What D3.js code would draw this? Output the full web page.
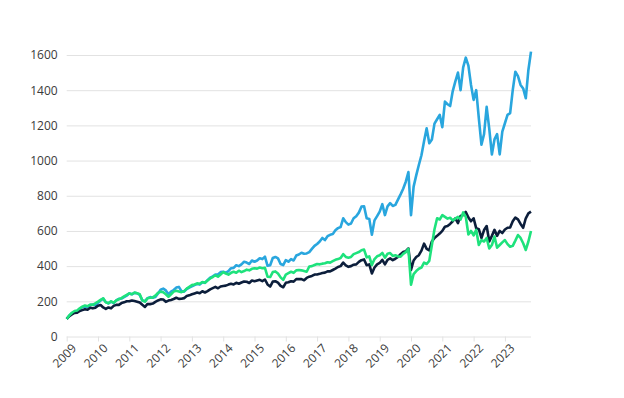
<!DOCTYPE html>
<html>
<head>
<meta charset="utf-8">
<script src="https://cdn.jsdelivr.net/npm/d3@7"></script>
<style>
  body { margin: 0; background: #fff; }
  text { font-family: "Open Sans", sans-serif; }
</style>
</head>
<body>
<script>
// Growth of 100, one value per month from March 2009
const years = d3.range(2009, 2024);
const yTicks = [0, 200, 400, 600, 800, 1000, 1200, 1400, 1600];

const blue = [
  100,118,132,138,142,155,168,170,168,178,
  182,178,192,205,215,195,188,198,190,205,214,216,
  224,232,245,240,248,246,236,205,200,218,224,220,
  225,245,266,272,262,240,255,264,278,282,258,255,
  270,278,285,292,298,295,308,305,320,335,342,352,
  352,366,368,362,372,388,390,405,400,410,425,420,
  412,432,425,432,445,440,454,402,405,446,452,444,
  412,406,434,425,440,432,460,466,476,470,472,480,
  498,515,526,540,560,548,570,578,582,604,616,622,
  672,650,636,642,672,684,704,738,740,672,668,578,
  660,684,710,752,690,740,758,742,748,778,808,840,
  880,935,690,852,916,975,1030,1110,1183,1098,1120,1210,
  1235,1260,1190,1335,1320,1310,1395,1450,1500,1400,1530,1585,
  1540,1430,1345,1400,1240,1090,1150,1305,1180,1035,1120,1150,
  1035,1165,1212,1260,1270,1400,1505,1480,1430,1410,1354,1515,1619
];

const navy = [
  100,116,126,134,135,145,150,155,152,163,
  160,164,175,179,165,157,165,160,174,180,180,190,
  194,200,200,205,202,198,193,180,168,185,184,187,
  197,205,211,210,197,204,208,213,220,214,215,218,
  230,234,240,245,250,246,257,250,258,268,275,282,
  274,284,287,289,295,300,296,305,300,307,313,311,
  304,318,314,318,322,315,324,296,284,312,314,306,
  288,280,305,308,314,312,326,327,326,320,333,340,
  344,352,352,356,361,363,370,370,378,386,395,400,
  420,404,396,400,408,410,424,434,438,405,410,358,
  392,410,418,436,410,436,444,434,442,452,468,480,
  485,500,378,432,452,462,488,528,498,490,540,560,
  572,585,600,624,628,640,655,672,645,685,690,708,
  676,655,672,615,610,560,605,628,540,572,606,572,
  600,588,608,618,620,655,676,666,640,618,672,700,710
];

const green = [
  100,120,135,145,148,160,170,176,172,182,
  180,189,198,208,217,194,189,200,192,205,212,218,
  228,236,245,240,250,246,240,205,198,217,220,222,
  232,248,255,252,240,226,240,255,260,256,252,258,
  272,282,292,296,302,300,310,305,318,330,338,348,
  340,352,366,358,352,362,368,362,374,366,372,380,
  376,385,388,386,392,388,390,340,338,366,370,358,
  336,322,352,360,368,362,376,378,376,372,368,398,
  400,406,412,410,414,416,422,420,428,436,440,446,
  468,452,448,452,468,474,480,490,494,450,455,406,
  440,456,462,475,448,470,474,458,462,455,454,470,
  480,498,295,355,372,385,392,420,412,430,520,610,
  672,665,690,680,670,675,660,670,680,665,705,680,
  580,600,575,606,520,548,540,560,500,520,568,505,
  520,535,548,525,510,515,545,577,560,530,492,540,600
];

const series = [
  {name: 'blue', values: blue, color: '#29a6de'},
  {name: 'navy', values: navy, color: '#0c1e3b'},
  {name: 'green', values: green, color: '#1ee27c'}
];

let width = 624,
  height = 398;

let margin = {top: 55, right: 93, bottom: 61.5, left: 66.7};

let svg = d3
  .select('body')
  .append('svg')
    .attr('width', width)
    .attr('height', height)
    .style('background', '#fff');

// Scales: x in years, one step per month
let xScale = d3.scaleLinear()
  .domain([2009, 2009 + (blue.length - 1) / 12])
  .range([margin.left, width - margin.right]);

let yScale = d3.scaleLinear()
  .domain([0, 1600])
  .range([height - margin.bottom, margin.top]);

// Gridlines + y labels
let yAxis = svg.append('g')
  .attr('transform', `translate(${margin.left},0)`)
  .call(d3.axisLeft(yScale)
    .tickValues(yTicks)
    .tickSize(-(width - margin.right - margin.left))
    .tickPadding(9)
    .tickFormat(d3.format('d')));

yAxis.select('.domain').remove();
yAxis.selectAll('line').attr('stroke', '#e2e2e2');
yAxis.selectAll('text')
  .attr('fill', '#3b3b3b')
  .style('font-size', '12px');

// x axis ticks + rotated labels
let xAxis = svg.append('g')
  .attr('transform', `translate(0,${height - margin.bottom})`)
  .call(d3.axisBottom(xScale)
    .tickValues(years)
    .tickSize(5)
    .tickFormat(d3.format('d')));

xAxis.select('.domain').remove();
xAxis.selectAll('line').attr('stroke', '#e2e2e2');
xAxis.selectAll('text')
  .attr('y', 0)
  .attr('dy', 0)
  .attr('fill', '#3b3b3b')
  .attr('text-anchor', 'end')
  .attr('transform', 'translate(10,12.5) rotate(-45)')
  .style('font-size', '12px');

// Lines
let line = d3.line()
  .x((d, i) => xScale(2009 + i / 12))
  .y(d => yScale(d));

svg.selectAll('.series')
  .data(series)
  .enter()
  .append('path')
    .attr('class', 'series')
    .attr('d', d => line(d.values))
    .attr('fill', 'none')
    .attr('stroke', d => d.color)
    .attr('stroke-width', 2.6)
    .attr('stroke-linejoin', 'round');
</script>
</body>
</html>
